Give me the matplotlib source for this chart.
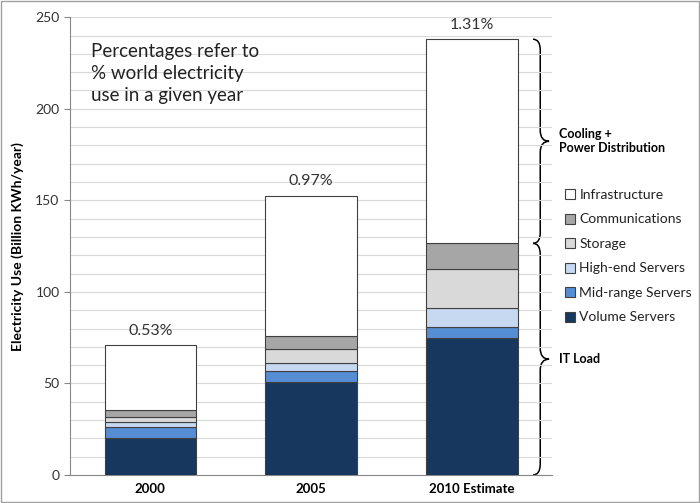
import numpy as np
import matplotlib
matplotlib.use("Agg")
from matplotlib import pyplot as plt
from matplotlib.path import Path
from matplotlib.patches import PathPatch, Rectangle

plt.rcParams['font.family'] = ['Lato', 'DejaVu Sans']

years = ["2000", "2005", "2010 Estimate"]
pct_labels = ["0.53%", "0.97%", "1.31%"]
series = ["Volume Servers", "Mid-range Servers", "High-end Servers",
          "Storage", "Communications", "Infrastructure"]
volume = [20.2, 50.9, 74.6]
midrange = [6.0, 6.0, 6.0]
highend = [2.7, 4.4, 10.4]
storage = [2.8, 7.5, 21.6]
comms = [3.8, 7.2, 13.9]
infra = [35.5, 76.5, 111.5]
colors = ["#17375E", "#558ED5", "#C6D9F1", "#D9D9D9", "#A6A6A6", "#FFFFFF"]

fig = plt.figure(figsize=(7, 5.03), dpi=100)
ax = fig.add_axes([0.1, 0.0557, 0.689, 0.91])
fig.patches.append(Rectangle((0.001, 0.001), 0.997, 0.997, transform=fig.transFigure,
                             fill=False, edgecolor="#A0A0A0", lw=1))

x = np.arange(len(years))
bottom = np.zeros(len(years))
handles = []
for name, vals, c in zip(series, [volume, midrange, highend, storage, comms, infra], colors):
    b = ax.bar(x, vals, width=0.57, bottom=bottom, color=c, edgecolor="#404040",
               linewidth=0.8, label=name, zorder=3)
    handles.append(b)
    bottom = bottom + np.array(vals)

for xi, tot, lab in zip(x, bottom, pct_labels):
    ax.text(xi, tot + 4, lab, ha="center", va="bottom", fontsize=11.5, color="#333333")

ax.set_xlim(-0.5, 2.5)
ax.set_ylim(0, 250)
ax.set_yticks(np.arange(0, 251, 50))
ax.set_yticks(np.arange(0, 251, 10), minor=True)
ax.grid(axis="y", which="both", color="#D9D9D9", lw=0.8, zorder=0)
ax.tick_params(axis="y", which="major", length=4, color="#888888", labelsize=10, labelcolor="#333333")
ax.tick_params(axis="y", which="minor", length=0)
ax.set_xticks(x)
ax.set_xticklabels(years, fontweight="bold", fontsize=9.5)
ax.tick_params(axis="x", length=0, pad=6)
for s in ["top", "right"]:
    ax.spines[s].set_visible(False)
ax.spines["left"].set_color("#888888")
ax.spines["bottom"].set_color("#888888")
ax.set_ylabel("Electricity Use (Billion KWh/year)", fontweight="bold", fontsize=10, labelpad=8)

ax.text(-0.37, 236, "Percentages refer to\n% world electricity\nuse in a given year",
        ha="left", va="top", fontsize=13.5, color="#222222", linespacing=1.35)


def brace(ax, xb, y0, y1, w):
    ym = (y0 + y1) / 2
    r = min(6, (y1 - y0) / 6)
    xm = xb + w * 0.45
    verts = [(xb, y1), (xm, y1), (xm, y1 - r), (xm, ym + r), (xm, ym), (xb + w, ym),
             (xm, ym), (xm, ym - r), (xm, y0 + r), (xm, y0), (xb, y0)]
    codes = [Path.MOVETO, Path.CURVE3, Path.CURVE3, Path.LINETO, Path.CURVE3, Path.CURVE3,
             Path.CURVE3, Path.CURVE3, Path.LINETO, Path.CURVE3, Path.CURVE3]
    ax.add_patch(PathPatch(Path(verts, codes), fill=False, lw=1.1, color="black", clip_on=False))


it_top = bottom[2] - infra[2]
brace(ax, 2.38, it_top, bottom[2], 0.1)
brace(ax, 2.38, 0, it_top, 0.1)
ax.text(2.54, (it_top + bottom[2]) / 2, "Cooling +\nPower Distribution", ha="left", va="center",
        fontsize=9, fontweight="bold", clip_on=False)
ax.text(2.54, it_top / 2, "IT Load", ha="left", va="center", fontsize=9,
        fontweight="bold", clip_on=False)

leg = ax.legend(handles[::-1], series[::-1], loc="center left", bbox_to_anchor=(1.0, 0.478),
                frameon=False, fontsize=10, handlelength=0.75, handleheight=0.75,
                handletextpad=0.3, labelspacing=0.9)
for t in leg.get_texts():
    t.set_color("#222222")

fig.savefig("out.png", dpi=100)
